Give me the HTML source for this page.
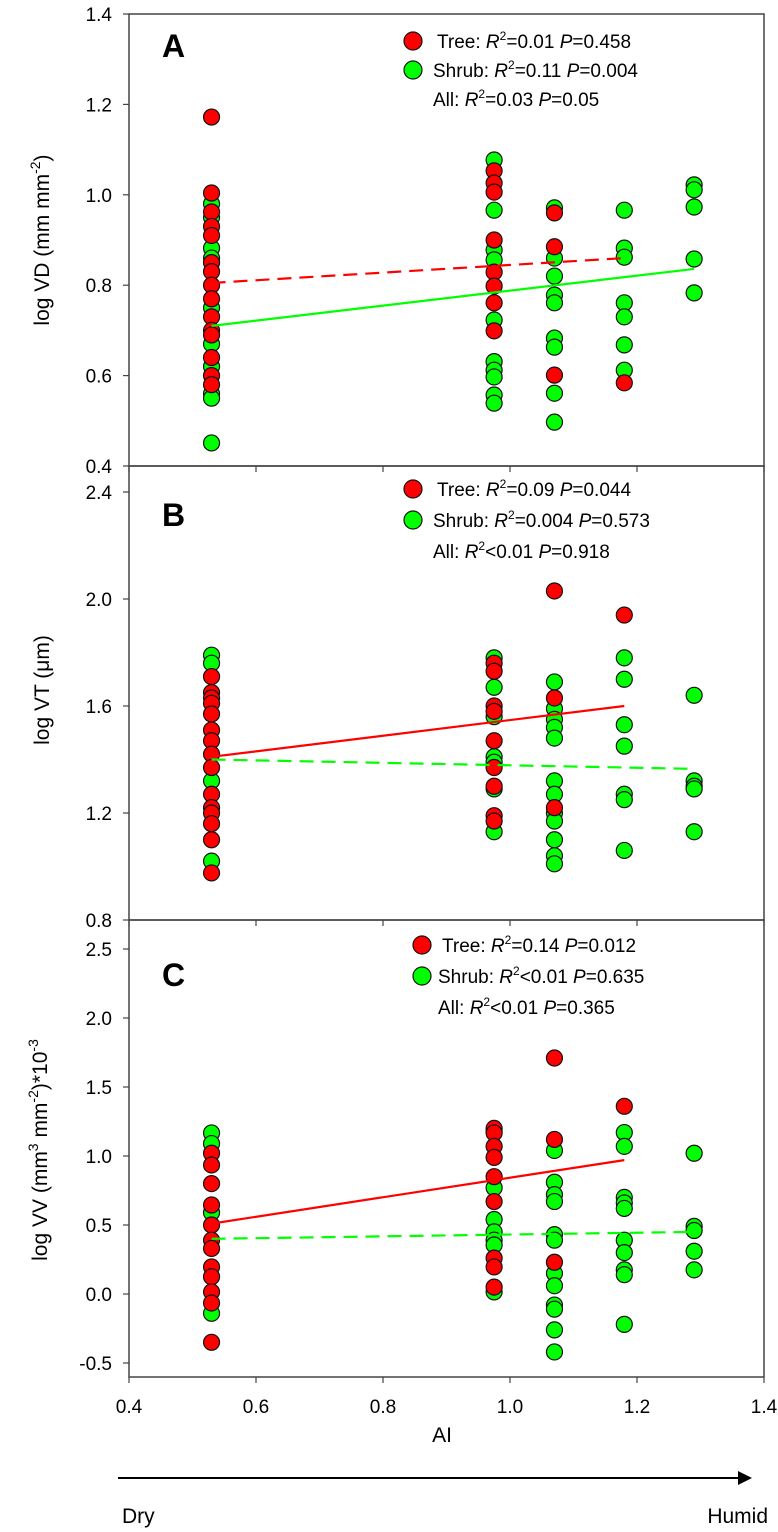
<!DOCTYPE html>
<html><head><meta charset="utf-8"><style>
html,body{margin:0;padding:0;background:#fff;}
svg{display:block;font-family:"Liberation Sans",Arial,sans-serif;}
</style></head><body>
<svg id="chart" width="778" height="1532" viewBox="0 0 778 1532" xmlns="http://www.w3.org/2000/svg"></svg>
<script>
// ---- data ----
const xCats = [0.53, 0.975, 1.07, 1.18, 1.29];
const xTicks = [0.4, 0.6, 0.8, 1.0, 1.2, 1.4];

// Panel A (log VD)
const aTreeX = [0.53,0.53,0.53,0.53,0.53,0.53,0.53,0.53,0.53,0.53,0.53,0.53,0.53,0.53,0.53, 0.975,0.975,0.975,0.975,0.975,0.975,0.975,0.975, 1.07,1.07,1.07, 1.18];
const aTreeY = [1.172,1.004,0.962,0.93,0.91,0.85,0.83,0.80,0.77,0.73,0.70,0.69,0.64,0.60,0.58, 1.053,1.026,1.006,0.900,0.829,0.798,0.761,0.699, 0.960,0.885,0.601, 0.584];
const aShrubX = [0.53,0.53,0.53,0.53,0.53,0.53,0.53,0.53,0.53,0.53, 0.975,0.975,0.975,0.975,0.975,0.975,0.975,0.975,0.975,0.975, 1.07,1.07,1.07,1.07,1.07,1.07,1.07,1.07,1.07, 1.18,1.18,1.18,1.18,1.18,1.18,1.18, 1.29,1.29,1.29,1.29,1.29];
const aShrubY = [0.98,0.95,0.882,0.86,0.75,0.67,0.62,0.56,0.55,0.451, 1.077,0.966,0.878,0.856,0.723,0.631,0.612,0.597,0.557,0.539, 0.971,0.860,0.820,0.778,0.761,0.683,0.663,0.561,0.497, 0.966,0.882,0.862,0.761,0.730,0.668,0.612, 1.022,1.011,0.973,0.858,0.783];
const aTreeFit = [0.805, 0.86];   // at x 0.53 -> 1.18
const aShrubFit = [0.71, 0.836];  // at x 0.53 -> 1.29

// Panel B (log VT)
const bTreeX = [0.53,0.53,0.53,0.53,0.53,0.53,0.53,0.53,0.53,0.53,0.53,0.53,0.53,0.53,0.53, 0.975,0.975,0.975,0.975,0.975,0.975,0.975,0.975,0.975, 1.07,1.07,1.07, 1.18];
const bTreeY = [1.71,1.65,1.63,1.61,1.57,1.51,1.47,1.42,1.37,1.27,1.22,1.20,1.16,1.10,0.976, 1.76,1.73,1.60,1.58,1.47,1.37,1.30,1.19,1.17, 2.03,1.63,1.22, 1.94];
const bShrubX = [0.53,0.53,0.53,0.53, 0.975,0.975,0.975,0.975,0.975,0.975,0.975, 1.07,1.07,1.07,1.07,1.07,1.07,1.07,1.07,1.07,1.07,1.07,1.07, 1.18,1.18,1.18,1.18,1.18,1.18,1.18, 1.29,1.29,1.29,1.29,1.29];
const bShrubY = [1.79,1.76,1.32,1.02, 1.78,1.67,1.56,1.41,1.39,1.29,1.13, 1.69,1.59,1.55,1.52,1.48,1.32,1.27,1.20,1.17,1.10,1.04,1.01, 1.78,1.70,1.53,1.45,1.27,1.25,1.06, 1.64,1.32,1.30,1.29,1.13];
const bTreeFit = [1.41, 1.60];
const bShrubFit = [1.40, 1.365];

// Panel C (log VV)
const cTreeX = [0.53,0.53,0.53,0.53,0.53,0.53,0.53,0.53,0.53,0.53,0.53,0.53, 0.975,0.975,0.975,0.975,0.975,0.975,0.975,0.975,0.975, 1.07,1.07,1.07, 1.18];
const cTreeY = [1.02,0.935,0.80,0.645,0.50,0.39,0.33,0.196,0.125,0.015,-0.065,-0.35, 1.20,1.167,1.07,0.99,0.85,0.67,0.26,0.196,0.05, 1.71,1.12,0.23, 1.36];
const cShrubX = [0.53,0.53,0.53,0.53, 0.975,0.975,0.975,0.975,0.975,0.975,0.975, 1.07,1.07,1.07,1.07,1.07,1.07,1.07,1.07,1.07,1.07,1.07,1.07, 1.18,1.18,1.18,1.18,1.18,1.18,1.18,1.18,1.18,1.18, 1.29,1.29,1.29,1.29,1.29];
const cShrubY = [1.167,1.09,0.59,-0.14, 1.18,0.77,0.54,0.45,0.39,0.355,0.015, 1.04,0.81,0.72,0.67,0.43,0.39,0.15,0.06,-0.08,-0.11,-0.26,-0.42, 1.17,1.07,0.70,0.66,0.62,0.39,0.30,0.175,0.14,-0.22, 1.02,0.49,0.46,0.31,0.175];
const cTreeFit = [0.51, 0.97];
const cShrubFit = [0.40, 0.45];

const aTicks = [0.4,0.6,0.8,1.0,1.2,1.4];
const bTicks = [0.8,1.2,1.6,2.0,2.4];
const cTicks = [-0.5,0.0,0.5,1.0,1.5,2.0,2.5];

// ---- drawing ----
const NS = "http://www.w3.org/2000/svg";
const svg = document.getElementById('chart');
const X0 = 129, X1 = 764;
const xs = v => X0 + (v - 0.4) / 1.0 * (X1 - X0);
function mk(tag, attrs, parent) {
  const e = document.createElementNS(NS, tag);
  for (const k in attrs) e.setAttribute(k, attrs[k]);
  (parent || svg).appendChild(e);
  return e;
}
function panel(cfg) {
  const g = mk('g', {});
  
  
  const ys = v => cfg.yTop + (cfg.vTop - v) / (cfg.vTop - cfg.vBot) * (cfg.yBot - cfg.yTop);
  const frame = mk('rect', {x: X0, y: cfg.yTop, width: X1 - X0, height: cfg.yBot - cfg.yTop, fill: 'none', stroke: '#444', 'stroke-width': 1.5}, g);
  
  
  cfg.ticks.forEach((t, i) => {
    const y = ys(t);
    const tk = mk('line', {x1: X0 - 6, x2: X0, y1: y, y2: y, stroke: '#444', 'stroke-width': 1.2}, g);
    
    
    const tl = mk('text', {x: 112, y: y + 7, 'text-anchor': 'end', 'font-size': 19, fill: '#000'}, g);
    
    
    tl.textContent = cfg.tickFmt(t);
  });
  xTicks.forEach(t => {
    const x = xs(t);
    const tk = mk('line', {x1: x, x2: x, y1: cfg.yBot, y2: cfg.yBot + 6, stroke: '#444', 'stroke-width': 1.2}, g);
    
    
  });
  const pts = (xa, ya, color, name) => {
    xa.forEach((xv, i) => {
      const c = mk('circle', {cx: xs(xv), cy: ys(ya[i]), r: 8, fill: color, stroke: '#111', 'stroke-width': 1.2}, g);
      
      
    });
  };
  pts(cfg.sx, cfg.sy, '#00ff00', 'shrub-point');
  pts(cfg.tx, cfg.ty, '#ff0000', 'tree-point');
  const fit = (f, xe, color, dash, name) => {
    const l = mk('line', {x1: xs(0.53), y1: ys(f[0]), x2: xs(xe), y2: ys(f[1]), stroke: color, 'stroke-width': 2.2}, g);
    if (dash) l.setAttribute('stroke-dasharray', '14,8');
    
    
  };
  fit(cfg.tf, 1.18, '#ff0000', cfg.tDash, 'tree-fit-line');
  fit(cfg.sf, 1.29, '#00ff00', !cfg.tDash, 'shrub-fit-line');
  const lab = mk('text', {x: 162, y: cfg.yTop + cfg.labDy, 'font-size': 32, 'font-weight': 'bold'}, g);
  
  
  lab.textContent = cfg.id;
  // legend
  const lg = mk('g', {}, g);
  
  
  const rows = cfg.legend;
  rows.forEach((r, i) => {
    const ry = cfg.legY + i * cfg.legStep;
    if (r.c) {
      const d = mk('circle', {cx: cfg.legX, cy: ry - 7, r: 9, fill: r.c, stroke: '#111', 'stroke-width': 1.2}, lg);
      
      
    }
    const t = mk('text', {x: cfg.legX + r.dx, y: ry, 'font-size': 19}, lg);
    
    
    t.innerHTML = r.html;
  });
  return ys;
}
const f1 = t => t.toFixed(1);
const leg = (name, r2, p) => `${name}: <tspan font-style="italic">R</tspan><tspan font-size="12" dy="-8">2</tspan><tspan dy="8">${r2} </tspan><tspan font-style="italic">P</tspan>=${p}`;
panel({id:'A', yTop:14, yBot:466, vTop:1.4, vBot:0.4, ticks:aTicks, tickFmt:f1,
  tx:aTreeX, ty:aTreeY, sx:aShrubX, sy:aShrubY, tf:aTreeFit, sf:aShrubFit, tDash:true, labDy:43,
  legX:413, legY:48, legStep:29,
  legend:[{c:'#ff0000',dx:24,html:leg('Tree','=0.01','0.458')},{c:'#00ff00',dx:20,html:leg('Shrub','=0.11','0.004')},{dx:20,html:leg('All','=0.03','0.05')}]});
panel({id:'B', yTop:466, yBot:920, vTop:2.4+26/267.5, vBot:0.8, ticks:bTicks, tickFmt:f1,
  tx:bTreeX, ty:bTreeY, sx:bShrubX, sy:bShrubY, tf:bTreeFit, sf:bShrubFit, tDash:false, labDy:60,
  legX:413, legY:496, legStep:31,
  legend:[{c:'#ff0000',dx:24,html:leg('Tree','=0.09','0.044')},{c:'#00ff00',dx:20,html:leg('Shrub','=0.004','0.573')},{dx:20,html:leg('All','&lt;0.01','0.918')}]});
panel({id:'C', yTop:920, yBot:1377, vTop:2.5+29/138, vBot:-0.5-14/138, ticks:cTicks, tickFmt:f1,
  tx:cTreeX, ty:cTreeY, sx:cShrubX, sy:cShrubY, tf:cTreeFit, sf:cShrubFit, tDash:false, labDy:66,
  legX:422, legY:952, legStep:31,
  legend:[{c:'#ff0000',dx:20,html:leg('Tree','=0.14','0.012')},{c:'#00ff00',dx:16,html:leg('Shrub','&lt;0.01','0.635')},{dx:16,html:leg('All','&lt;0.01','0.365')}]});
// x tick labels
xTicks.forEach(t => {
  const tl = mk('text', {x: xs(t), y: 1413, 'text-anchor': 'middle', 'font-size': 19});
  
  
  tl.textContent = t.toFixed(1);
});
</script>
<svg width="778" height="1532" style="position:absolute;left:0;top:0" xmlns="http://www.w3.org/2000/svg">
  <text transform="translate(49,240) rotate(-90)" text-anchor="middle" font-size="21" font-family="Liberation Sans, sans-serif">log VD (mm mm<tspan font-size="14" dy="-9">-2</tspan><tspan dy="9">)</tspan></text>
  <text transform="translate(49,690) rotate(-90)" text-anchor="middle" font-size="21" font-family="Liberation Sans, sans-serif">log VT (μm)</text>
  <text transform="translate(47,1150) rotate(-90)" text-anchor="middle" font-size="21" font-family="Liberation Sans, sans-serif">log VV (mm<tspan font-size="14" dy="-9">3</tspan><tspan dy="9"> mm</tspan><tspan font-size="14" dy="-9">-2</tspan><tspan dy="9">)*10</tspan><tspan font-size="14" dy="-9">-3</tspan></text>
  <text x="442" y="1442" text-anchor="middle" font-size="21" font-family="Liberation Sans, sans-serif">AI</text>
  <line x1="118" y1="1478" x2="746" y2="1478" stroke="#000" stroke-width="2"/>
  <polygon points="752,1478 738,1471 738,1485" fill="#000"/>
  <text x="122" y="1523" font-size="21" font-family="Liberation Sans, sans-serif">Dry</text>
  <text x="768" y="1523" text-anchor="end" font-size="21" font-family="Liberation Sans, sans-serif">Humid</text>
</svg>
</body></html>
